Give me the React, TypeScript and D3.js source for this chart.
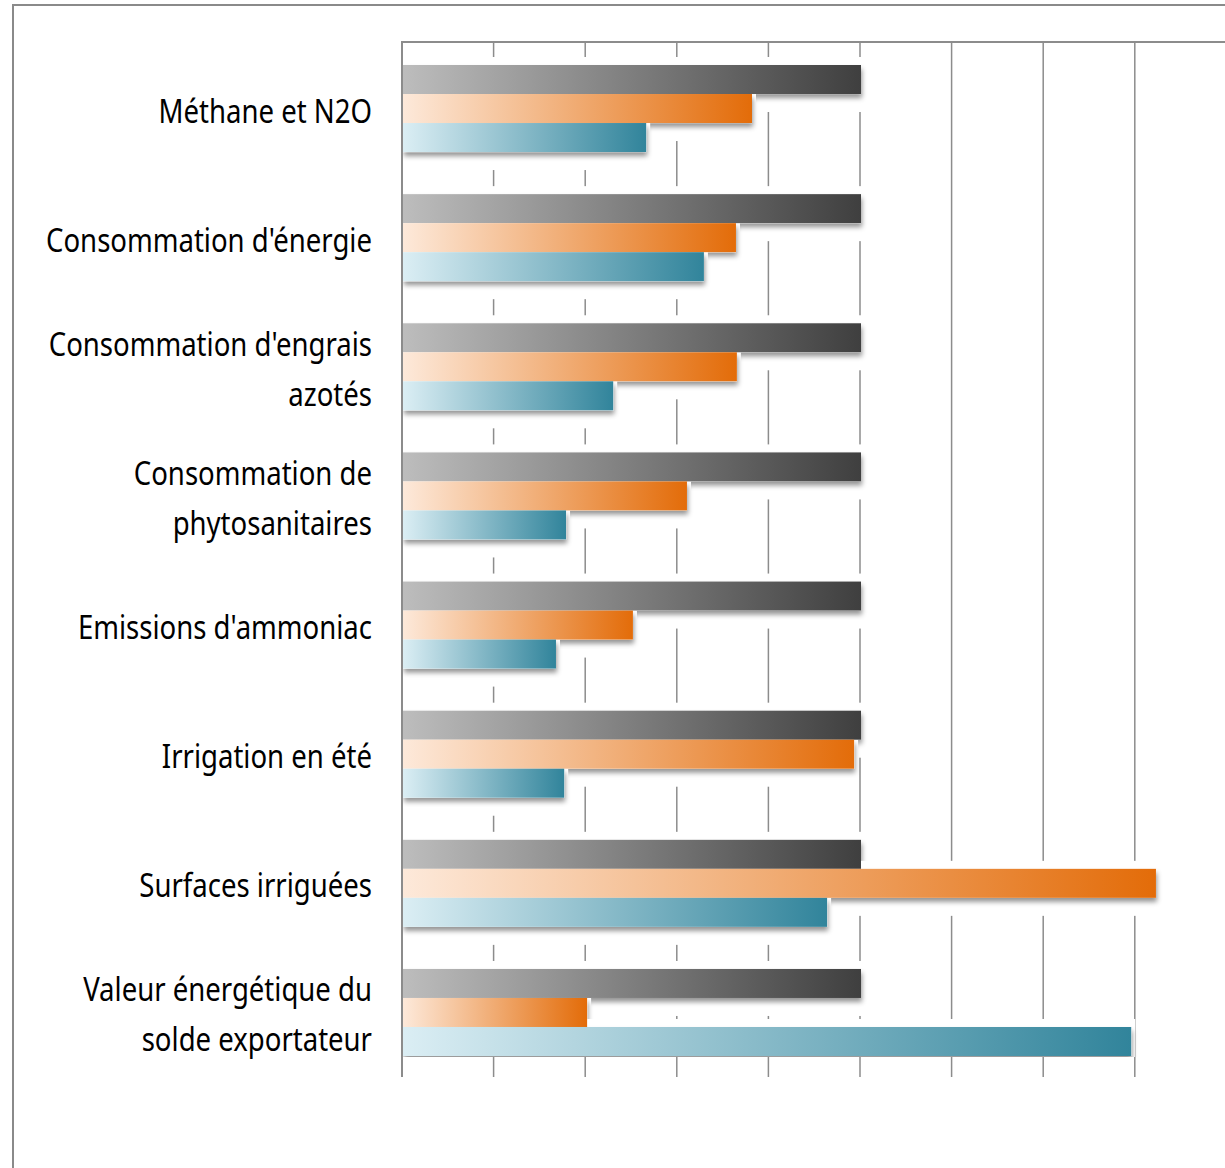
import React from "react";
import * as d3 from "d3";

const categories: string[][] = [
  ["Méthane et N2O"],
  ["Consommation d'énergie"],
  ["Consommation d'engrais", "azotés"],
  ["Consommation de", "phytosanitaires"],
  ["Emissions d'ammoniac"],
  ["Irrigation en été"],
  ["Surfaces irriguées"],
  ["Valeur énergétique du", "solde exportateur"],
];
const reference = [100, 100, 100, 100, 100, 100, 100, 100];
const orangeSeries = [76.2, 72.7, 72.9, 62.0, 50.2, 98.5, 164.4, 40.2];
const tealSeries = [53.1, 65.7, 45.9, 35.6, 33.4, 35.2, 92.6, 159.0];
const gridTicks = [0, 20, 40, 60, 80, 100, 120, 140, 160, 180];

const seriesList = [
  { id: "gray", values: reference, from: "#bdbdbd", to: "#3f3f3f" },
  { id: "orange", values: orangeSeries, from: "#fde9da", to: "#e36c09" },
  { id: "teal", values: tealSeries, from: "#dbeef4", to: "#31849b" },
];

export default function App() {
  const W = 1225, H = 1168;
  const x0 = 402, top = 42, bottom = 1077;
  const barsTop = 65, barsBottom = 1056;
  const x = d3.scaleLinear().domain([0, 180]).range([x0, x0 + 180 * 4.58]);
  const keys = categories.map((_, i) => String(i));
  const y = d3.scaleBand().domain(keys).range([barsTop, barsBottom]).paddingInner(0.326).paddingOuter(0);
  const ys = d3.scaleBand().domain(seriesList.map(s => s.id)).range([0, y.bandwidth()]);
  const bh = ys.bandwidth();
  const labelX = 372;

  return (
    <svg width={W} height={H} style={{ position: "absolute", left: 0, top: 0, background: "#fff" }}
      fontFamily="'Noto Sans', 'Open Sans', sans-serif">
      <defs>
        {seriesList.map(s => (
          <linearGradient key={s.id} id={"g-" + s.id} x1="0" x2="1" y1="0" y2="0">
            <stop offset="0" stopColor={s.from} />
            <stop offset="1" stopColor={s.to} />
          </linearGradient>
        ))}
        <filter id="shadow" x="-5%" y="-30%" width="115%" height="200%">
          <feDropShadow dx="1" dy="4" stdDeviation="2.5" floodColor="#000" floodOpacity="0.42" />
        </filter>
        <clipPath id="plotclip">
          <rect x={x0 + 1} y={top + 1} width={W} height={barsBottom - top} />
        </clipPath>
      </defs>
      <rect x={0} y={0} width={W} height={H} fill="#fff" />
      {/* outer frame */}
      <path d={`M13,${H + 5} V5 H${W + 5}`} fill="none" stroke="#8a8a8a" strokeWidth={2} />
      {/* gridlines */}
      {gridTicks.map(t => (
        <line key={t} x1={x(t)} x2={x(t)} y1={top} y2={bottom} stroke="#8c8c8c" strokeWidth={t === 0 ? 2 : 1.5} />
      ))}
      <line x1={x0 - 1} x2={W} y1={top} y2={top} stroke="#8c8c8c" strokeWidth={2} />
      {/* halos and shadows */}
      <g clipPath="url(#plotclip)">
        {keys.map((k, i) => (
          <g key={k}>
            {seriesList.map(s => {
              const by = (y(k) as number) + (ys(s.id) as number);
              const bw = x(s.values[i]) - x0;
              return (
                <g key={s.id}>
                  <rect x={x0 + 1} y={by - 8} width={bw + 4} height={bh + 26} fill="#fff" />
                  <rect x={x0 + 1} y={by} width={bw} height={bh} fill="#fff" filter="url(#shadow)" />
                </g>
              );
            })}
          </g>
        ))}
      </g>
      {/* bars */}
      {keys.map((k, i) => (
        <g key={k}>
          {seriesList.map(s => {
            const by = (y(k) as number) + (ys(s.id) as number);
            const bw = x(s.values[i]) - x0;
            return <rect key={s.id} x={x0 + 1} y={by} width={bw} height={bh} fill={`url(#g-${s.id})`} />;
          })}
        </g>
      ))}
      {/* category labels */}
      {categories.map((lines, i) => {
        const cy = (y(keys[i]) as number) + y.bandwidth() / 2;
        const lh = 50;
        return (
          <text key={i} transform={`translate(${labelX},0) scale(0.835,1)`} textAnchor="end" fontSize={33} fill="#000">
            {lines.map((ln, j) => (
              <tspan key={j} x={0} y={cy + 14 + (j - (lines.length - 1) / 2) * lh}>{ln}</tspan>
            ))}
          </text>
        );
      })}
    </svg>
  );
}
